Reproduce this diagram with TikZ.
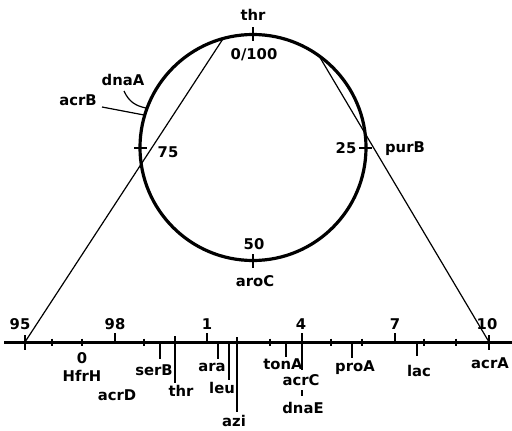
\documentclass[tikz,border=0pt]{standalone}
\usepackage{fontspec}
\setmainfont{DejaVu Sans}
\begin{document}
\begin{tikzpicture}[x=1pt,y=-1pt,
  lbl/.style={font=\bfseries\fontsize{14.8}{14.8}\selectfont, inner sep=0pt},
  circ/.style={line width=3.2pt},
  axisline/.style={line width=3pt},
  tk/.style={line width=2pt},
  thin/.style={line width=1.2pt}]
\useasboundingbox (0,0) rectangle (512,431);
% chromosome circle
\coordinate (O) at (253,147.5);
\draw[circ] (O) circle[radius=113pt];
% circle ticks
\coordinate (ct1) at (253,27); \coordinate (ct2) at (253,41);
\draw[tk] (ct1) -- (ct2);
\coordinate (cl1) at (134,148); \coordinate (cl2) at (147,148);
\draw[tk] (cl1) -- (cl2);
\coordinate (cr1) at (359,148); \coordinate (cr2) at (372,148);
\draw[tk] (cr1) -- (cr2);
\coordinate (cb1) at (253,254); \coordinate (cb2) at (253,268);
\draw[tk] (cb1) -- (cb2);
% circle labels
\node[lbl] (thrC) at (253,15) {thr};
\node[lbl] (c0) at (254,55) {0/100};
\node[lbl] (c75) at (168,152) {75};
\node[lbl] (c25) at (346,148) {25};
\node[lbl] (purB) at (405,149) {purB};
\node[lbl] (c50) at (254,244) {50};
\node[lbl] (aroC) at (255,281) {aroC};
\node[lbl] (dnaA) at (123,80) {dnaA};
\node[lbl] (acrB) at (78,100) {acrB};
\coordinate (dnaAs) at (124,91);
\coordinate (dnaAe) at (146,108);
\draw[thin] (dnaAs) .. controls (129,102) and (136,106) .. (dnaAe);
\coordinate (acrBs) at (102,107);
\coordinate (acrBe) at (144,115);
\draw[thin] (acrBs) -- (acrBe);
% expansion lines
\coordinate (A) at (223.2,38.5);
\coordinate (B) at (318.9,55.7);
\coordinate (X95) at (25,342);
\coordinate (X10) at (489,342);
\draw[thin] (A) -- (X95);
\draw[thin] (B) -- (X10);
% axis
\coordinate (axL) at (4,342);
\coordinate (axR) at (512,342);
\draw[axisline] (axL) -- (axR);
% crossing ticks at ends
\draw[tk] (25,335) -- (25,350);
\draw[tk] (489,335) -- (489,350);
% small marks
\foreach \xx in {52,82,144,270,331,362,424,456}
  \draw[tk] (\xx,338.5) -- (\xx,345.5);
% upward ticks
\foreach \xx in {115,207,302,395}
  \draw[tk] (\xx,333) -- (\xx,342);
% numbers above axis
\node[lbl] (n95) at (20,324) {95};
\node[lbl] (n98) at (115,324) {98};
\node[lbl] (n1) at (207,324) {1};
\node[lbl] (n4) at (301,324) {4};
\node[lbl] (n7) at (395,324) {7};
\node[lbl] (n10) at (487,324) {10};
% genes below axis
\node[lbl] (z0) at (82,358) {0};
\node[lbl] (HfrH) at (82,376) {HfrH};
\node[lbl] (acrD) at (117,395) {acrD};
\draw[tk] (160,342) -- (160,359);
\node[lbl] (serB) at (154,370) {serB};
\draw[tk] (175,336) -- (175,383);
\node[lbl] (thr) at (181,391) {thr};
\draw[tk] (218,342) -- (218,359);
\node[lbl] (ara) at (212,367) {ara};
\draw[tk] (229,342) -- (229,380);
\node[lbl] (leu) at (222,388) {leu};
\draw[tk] (237,337) -- (237,412);
\node[lbl] (azi) at (234,421) {azi};
\draw[tk] (286,342) -- (286,357);
\node[lbl] (tonA) at (283,364) {tonA};
\draw[tk] (302,335) -- (302,370);
\node[lbl] (acrC) at (301,380) {acrC};
\draw[thin] (302,390) -- (302,396);
\node[lbl] (dnaE) at (303,408) {dnaE};
\draw[tk] (352,342) -- (352,358);
\node[lbl] (proA) at (355,368) {proA};
\draw[tk] (417,342) -- (417,356);
\node[lbl] (lac) at (419,371) {lac};
\node[lbl] (acrA) at (490,363) {acrA};
\end{tikzpicture}
\end{document}
